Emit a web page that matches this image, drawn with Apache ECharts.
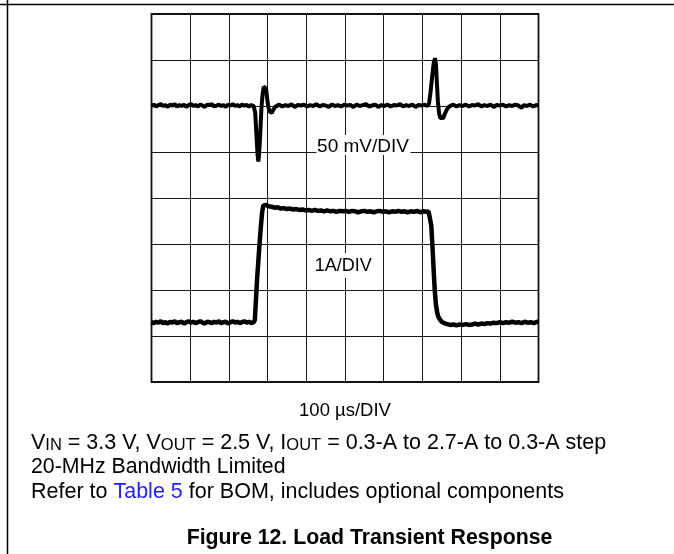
<!DOCTYPE html>
<html>
<head>
<meta charset="utf-8">
<script src="https://cdn.jsdelivr.net/npm/echarts@6/dist/echarts.min.js"></script>
<style>
  html, body { margin: 0; padding: 0; background: #fff; }
  #chart { width: 674px; height: 554px; }
</style>
</head>
<body>
<div id="chart"></div>
<script>
// Time axis in microseconds (10 divisions x 100 µs), vertical axis in screen divisions (8 divisions)
const xTicks = { min: 0, max: 1000, step: 100 };
const yTicks = { min: 0, max: 8, step: 1 };

// Output voltage trace (50 mV/DIV), in divisions
const vTime = [0,6,12,18,24,30,36,42,48,54,60,66,72,78,84,90,96,102,108,114,120,126,132,138,144,150,156,162,168,174,180,186,192,198,204,210,216,222,228,234,240,246,252,258,264,
  268,271,274,276,278,281,284,287,290,293,296,299,302,305,308,311,315,319,324,
  330,338,346,354,362,370,378,386,394,402,410,418,426,434,442,450,458,466,474,482,490,498,506,514,522,530,538,546,554,562,570,578,586,594,602,610,618,626,634,642,650,658,666,674,682,690,698,706,712,
  717,721,725,729,732.5,735,737.5,740,743,746,750,754,758,763,768,774,
  780,788,796,804,812,820,828,836,844,852,860,868,876,884,892,900,908,916,924,932,940,948,956,962,970,978,986,994,1000];
const vDiv = [6.00,6.03,5.99,6.02,6.04,6.00,6.02,5.98,6.03,6.01,6.04,5.99,6.02,6.00,6.03,5.98,6.02,6.04,6.00,6.02,5.99,6.03,6.01,5.98,6.03,6.02,6.04,5.99,6.01,6.03,6.00,6.02,5.98,6.03,6.01,6.04,6.00,6.02,5.99,6.03,6.01,6.02,5.99,6.02,6.00,
  5.85,5.40,4.95,4.79,4.95,5.40,5.95,6.25,6.42,6.46,6.38,6.15,5.98,5.88,5.84,5.85,5.92,5.98,6.01,
  6.03,5.99,6.02,6.00,6.04,5.98,6.02,6.01,6.03,5.99,6.02,6.00,6.04,5.99,6.02,6.01,5.98,6.03,6.00,6.02,5.99,6.03,6.01,6.02,5.98,6.03,6.00,6.02,6.04,5.99,6.01,6.03,5.98,6.02,6.00,6.03,5.99,6.02,6.01,6.04,5.99,6.02,6.00,6.03,5.98,6.02,6.01,6.03,6.00,
  6.05,6.30,6.62,6.92,7.04,6.90,6.50,6.10,5.85,5.74,5.70,5.74,5.83,5.92,5.98,6.01,
  6.03,5.99,6.02,6.00,6.03,5.99,6.02,6.01,6.04,5.99,6.02,6.00,6.03,5.98,6.02,6.01,6.03,5.99,6.02,6.00,6.03,6.01,5.96,6.02,6.00,6.03,5.99,6.02,6.01];

// Output current trace (1 A/DIV), in divisions (0.3 A -> 2.7 A -> 0.3 A step)
const iTime = [0,6,12,18,24,30,36,42,48,54,60,66,72,78,84,90,96,102,108,114,120,126,132,138,144,150,156,162,168,174,180,186,192,198,204,210,216,222,228,234,240,246,252,258,264,
  267,270,273,276.5,280,283,286,289,292,296,302,310,318,326,334,342,350,358,366,374,382,390,398,406,414,422,430,438,446,454,462,470,478,486,494,502,510,518,526,534,542,550,558,566,574,582,590,598,606,614,622,630,638,646,654,662,670,678,686,694,702,710,716,
  720,723,726,729,732,735,738,741,745,750,756,764,772,780,788,796,804,812,820,828,836,844,852,860,868,876,884,892,900,908,916,924,932,940,948,956,964,972,980,988,996,1000];
const iDiv = [1.30,1.28,1.31,1.29,1.32,1.28,1.30,1.27,1.31,1.29,1.32,1.28,1.30,1.31,1.27,1.30,1.32,1.29,1.31,1.28,1.30,1.32,1.29,1.27,1.31,1.30,1.28,1.31,1.29,1.32,1.28,1.30,1.31,1.27,1.30,1.32,1.29,1.31,1.28,1.30,1.32,1.29,1.31,1.28,1.30,
  1.35,1.80,2.25,2.68,3.10,3.42,3.70,3.84,3.86,3.85,3.82,3.81,3.79,3.80,3.77,3.78,3.76,3.77,3.75,3.76,3.74,3.75,3.73,3.74,3.72,3.74,3.72,3.73,3.71,3.73,3.71,3.72,3.70,3.72,3.71,3.72,3.70,3.72,3.71,3.69,3.71,3.72,3.70,3.71,3.69,3.71,3.72,3.70,3.71,3.69,3.71,3.70,3.72,3.70,3.71,3.69,3.71,3.70,3.72,3.69,3.71,3.70,3.71,
  3.68,3.40,2.95,2.45,1.98,1.68,1.52,1.42,1.36,1.31,1.28,1.26,1.24,1.25,1.23,1.25,1.24,1.26,1.24,1.25,1.27,1.25,1.27,1.26,1.28,1.27,1.29,1.28,1.30,1.28,1.30,1.29,1.31,1.29,1.30,1.28,1.31,1.29,1.30,1.28,1.31,1.30];

// Texts
const scaleV = '50 mV/DIV';
const scaleI = '1A/DIV';
const scaleT = '100 µs/DIV';
const noteLine2 = '20-MHz Bandwidth Limited';
const figTitle = 'Figure 12. Load Transient Response';

const zip = (a, b) => a.map((t, k) => [t, b[k]]);
const FONT = '"Liberation Sans", Arial, Helvetica, sans-serif';
const chart = echarts.init(document.getElementById('chart'), null, { renderer: 'canvas' });

const gridColor = '#1a1a1a';
chart.setOption({
  backgroundColor: '#ffffff',
  animation: false,
  grid: { left: 151.5, top: 14, width: 387, height: 368, show: true, borderColor: '#111', borderWidth: 1.8, backgroundColor: 'transparent', z: 3 },
  xAxis: {
    type: 'value', min: xTicks.min, max: xTicks.max, interval: xTicks.step,
    axisLine: { show: false }, axisTick: { show: false }, axisLabel: { show: false },
    splitLine: { show: true, lineStyle: { color: gridColor, width: 1 } }
  },
  yAxis: {
    type: 'value', min: yTicks.min, max: yTicks.max, interval: yTicks.step,
    axisLine: { show: false }, axisTick: { show: false }, axisLabel: { show: false },
    splitLine: { show: true, lineStyle: { color: gridColor, width: 1 } }
  },
  series: [
    { type: 'line', data: zip(vTime, vDiv), showSymbol: false, lineStyle: { color: '#000', width: 4 }, z: 5 },
    { type: 'line', data: zip(iTime, iDiv), showSymbol: false, lineStyle: { color: '#000', width: 4.5 }, z: 5 }
  ],
  graphic: [
    { type: 'line', shape: { x1: 0, y1: 4.5, x2: 674, y2: 4.5 }, style: { stroke: '#000', lineWidth: 1.5 } },
    { type: 'line', shape: { x1: 7.5, y1: 0, x2: 7.5, y2: 554 }, style: { stroke: '#000', lineWidth: 1.5 } },
    { type: 'rect', shape: { x: 316.5, y: 135, width: 94, height: 20 }, style: { fill: '#fff' }, z: 10 },
    { type: 'text', x: 363, y: 147, z: 11, style: { text: scaleV, fill: '#000', font: '19px ' + FONT, textAlign: 'center', textVerticalAlign: 'middle' } },
    { type: 'rect', shape: { x: 312, y: 253, width: 64, height: 25 }, style: { fill: '#fff' }, z: 10 },
    { type: 'text', x: 343.3, y: 266, z: 11, style: { text: scaleI, fill: '#000', font: '18px ' + FONT, textAlign: 'center', textVerticalAlign: 'middle' } },
    { type: 'text', x: 345, y: 410.5, z: 11, style: { text: scaleT, fill: '#000', font: '18.5px ' + FONT, textAlign: 'center', textVerticalAlign: 'middle' } },
    { type: 'text', x: 31, y: 443, z: 11, style: {
        text: 'V{s|IN} = 3.3 V, V{s|OUT} = 2.5 V, I{s|OUT} = 0.3-A to 2.7-A to 0.3-A step',
        fill: '#000', font: '21.5px ' + FONT, textAlign: 'left', textVerticalAlign: 'middle',
        rich: { s: { fontSize: 16.5, fontFamily: FONT, fill: '#000', verticalAlign: 'bottom', lineHeight: 9 } }
      } },
    { type: 'text', x: 31, y: 467.5, z: 11, style: { text: noteLine2, fill: '#000', font: '21.3px ' + FONT, textAlign: 'left', textVerticalAlign: 'middle' } },
    { type: 'text', x: 31, y: 492, z: 11, style: {
        text: 'Refer to {b|Table 5} for BOM, includes optional components',
        fill: '#000', font: '21.5px ' + FONT, textAlign: 'left', textVerticalAlign: 'middle',
        rich: { b: { fontSize: 21.5, fontFamily: FONT, fill: '#1f1fff' } }
      } },
    { type: 'text', x: 369.5, y: 538, z: 11, style: { text: figTitle, fill: '#000', font: 'bold 21.3px ' + FONT, textAlign: 'center', textVerticalAlign: 'middle' } }
  ]
});
</script>
</body>
</html>
